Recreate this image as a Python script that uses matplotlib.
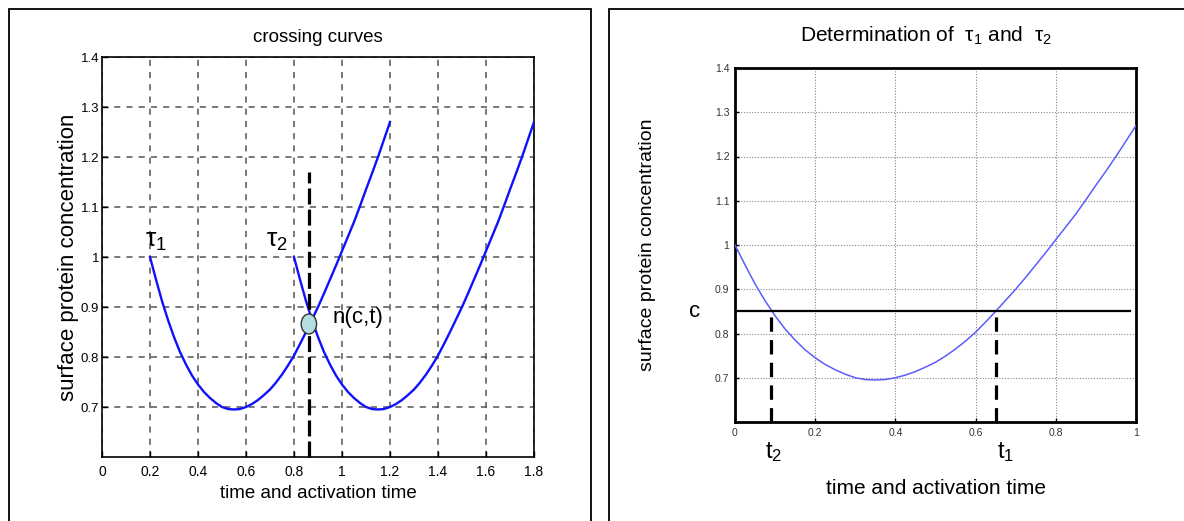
import matplotlib.pyplot as plt
from matplotlib.patches import Rectangle, Ellipse
from matplotlib.ticker import FixedLocator, FixedFormatter

plt.rcParams['font.family'] = ['Liberation Sans', 'DejaVu Sans']
plt.rcParams['mathtext.fontset'] = 'stix'

# curve: time since activation -> concentration
t_vals = [0, 0.025, 0.05, 0.075, 0.10, 0.125, 0.15, 0.175, 0.20, 0.225, 0.25,
          0.275, 0.30, 0.325, 0.35, 0.375, 0.40, 0.425, 0.45, 0.475, 0.50,
          0.525, 0.55, 0.575, 0.60, 0.625, 0.65, 0.675, 0.70, 0.725, 0.75,
          0.775, 0.80, 0.825, 0.85, 0.875, 0.90, 0.925, 0.95, 0.975, 1.0]
conc_vals = [1.0, 0.955, 0.912, 0.874, 0.84, 0.81, 0.785, 0.763, 0.745, 0.730, 0.718,
             0.708, 0.70, 0.696, 0.695, 0.696, 0.70, 0.706, 0.714, 0.724, 0.735,
             0.749, 0.765, 0.783, 0.803, 0.826, 0.85, 0.875, 0.90, 0.927, 0.955,
             0.983, 1.012, 1.041, 1.07, 1.102, 1.135, 1.167, 1.20, 1.235, 1.27]

# left panel
tau1 = 0.2
tau2 = 0.8
cross_x = 0.862
cross_y = 0.866
dash_top = 1.17
left_xticks = [0, 0.2, 0.4, 0.6, 0.8, 1.0, 1.2, 1.4, 1.6, 1.8]
left_xlabels = ['0', '0.2', '0.4', '0.6', '0.8', '1', '1.2', '1.4', '1.6', '1.8']
left_yticks = [0.7, 0.8, 0.9, 1.0, 1.1, 1.2, 1.3, 1.4]
left_ylabels = ['0.7', '0.8', '0.9', '1', '1.1', '1.2', '1.3', '1.4']

# right panel
c_level = 0.85
t2_val = 0.09
t1_val = 0.65
c_line_end = 0.985
right_xticks = [0, 0.2, 0.4, 0.6, 0.8, 1.0]
right_xlabels = ['0', '0.2', '0.4', '0.6', '0.8', '1']
right_yticks = left_yticks
right_ylabels = left_ylabels

W, H = 1184, 521
fig = plt.figure(figsize=(W / 100, H / 100), dpi=100)

# panel borders
fig.add_artist(Rectangle((9 / W, -0.1), (591 - 9) / W, 1.1 - 9 / H, fill=False,
                         lw=1.3, ec='black', transform=fig.transFigure, clip_on=False))
fig.add_artist(Rectangle((609 / W, -0.1), 1.0, 1.1 - 9 / H, fill=False,
                         lw=1.3, ec='black', transform=fig.transFigure, clip_on=False))

# ---------- left: crossing curves ----------
ax = fig.add_axes([102 / W, 1 - 457 / H, 432 / W, 400 / H])
x1 = [tau1 + t for t in t_vals]
x2 = [tau2 + t for t in t_vals]
ax.plot(x1, conc_vals, color='#1010ff', lw=1.7, zorder=3)
ax.plot(x2, conc_vals, color='#1010ff', lw=1.7, zorder=3)
ax.plot([cross_x, cross_x], [0.6, dash_top], color='black', lw=2.3,
        linestyle=(0, (5, 1.6)), zorder=4, clip_on=False)
ax.add_patch(Ellipse((cross_x, cross_y), 0.064, 0.04, fc='#b5dede', ec='#333333',
                     lw=1.0, zorder=5))
ax.text(tau1 - 0.02, 1.02, r'$\mathregular{\tau_1}$', fontsize=19, ha='left', va='baseline')
ax.text(tau2 - 0.115, 1.02, r'$\mathregular{\tau_2}$', fontsize=19, ha='left', va='baseline')
ax.text(0.96, 0.878, 'n(c,t)', fontsize=16, ha='left', va='center')

ax.set_xlim(0, 1.8)
ax.set_ylim(0.6, 1.4)
ax.xaxis.set_major_locator(FixedLocator(left_xticks))
ax.xaxis.set_major_formatter(FixedFormatter(left_xlabels))
ax.yaxis.set_major_locator(FixedLocator(left_yticks))
ax.yaxis.set_major_formatter(FixedFormatter(left_ylabels))
ax.tick_params(direction='in', length=4, width=1, pad=6)
ax.tick_params(axis='x', labelsize=10)
ax.tick_params(axis='y', labelsize=9.5, pad=2)
ax.grid(True, color='#555555', lw=1.1, linestyle=(0, (4, 4)))
for s in ax.spines.values():
    s.set_linewidth(1.2)
ax.set_title('crossing curves', fontsize=13.5, pad=11)
ax.set_xlabel('time and activation time', fontsize=13.5, labelpad=4)
ax.set_ylabel('surface protein concentration', fontsize=16, labelpad=1)

# ---------- right: determination of tau ----------
ax2 = fig.add_axes([735 / W, 1 - 422 / H, 401 / W, 354 / H])
ax2.plot(t_vals, conc_vals, color='#5c5cff', lw=1.1, zorder=3)
ax2.plot([0, c_line_end], [c_level, c_level], color='black', lw=1.6, zorder=4)
for tv in (t2_val, t1_val):
    ax2.plot([tv, tv], [0.6, c_level], color='black', lw=2.3,
             linestyle=(0, (4.5, 2.6)), zorder=4)
ax2.text(-0.1, c_level, 'c', fontsize=16, ha='center', va='center')
ax2.text(t2_val + 0.005, -0.085, r'$\mathregular{t_2}$', fontsize=17, ha='center', va='center',
         transform=ax2.get_xaxis_transform())
ax2.text(t1_val + 0.025, -0.085, r'$\mathregular{t_1}$', fontsize=17, ha='center', va='center',
         transform=ax2.get_xaxis_transform())

ax2.set_xlim(0, 1)
ax2.set_ylim(0.6, 1.4)
ax2.xaxis.set_major_locator(FixedLocator(right_xticks))
ax2.xaxis.set_major_formatter(FixedFormatter(right_xlabels))
ax2.yaxis.set_major_locator(FixedLocator(right_yticks))
ax2.yaxis.set_major_formatter(FixedFormatter(right_ylabels))
ax2.tick_params(direction='in', length=3, width=1, labelsize=7.5, labelcolor='#333333', pad=4)
ax2.grid(True, color='#888888', lw=0.8, linestyle=(0, (1, 1.5)))
for s in ax2.spines.values():
    s.set_linewidth(2)
ax2.set_title(r'Determination of  $\mathregular{\tau_1}$ and  $\mathregular{\tau_2}$',
              fontsize=15, pad=19, x=0.475)
ax2.set_xlabel('time and activation time', fontsize=15, labelpad=30)
ax2.set_ylabel('surface protein concentration', fontsize=14, labelpad=42)

fig.savefig('out.png', dpi=100)
